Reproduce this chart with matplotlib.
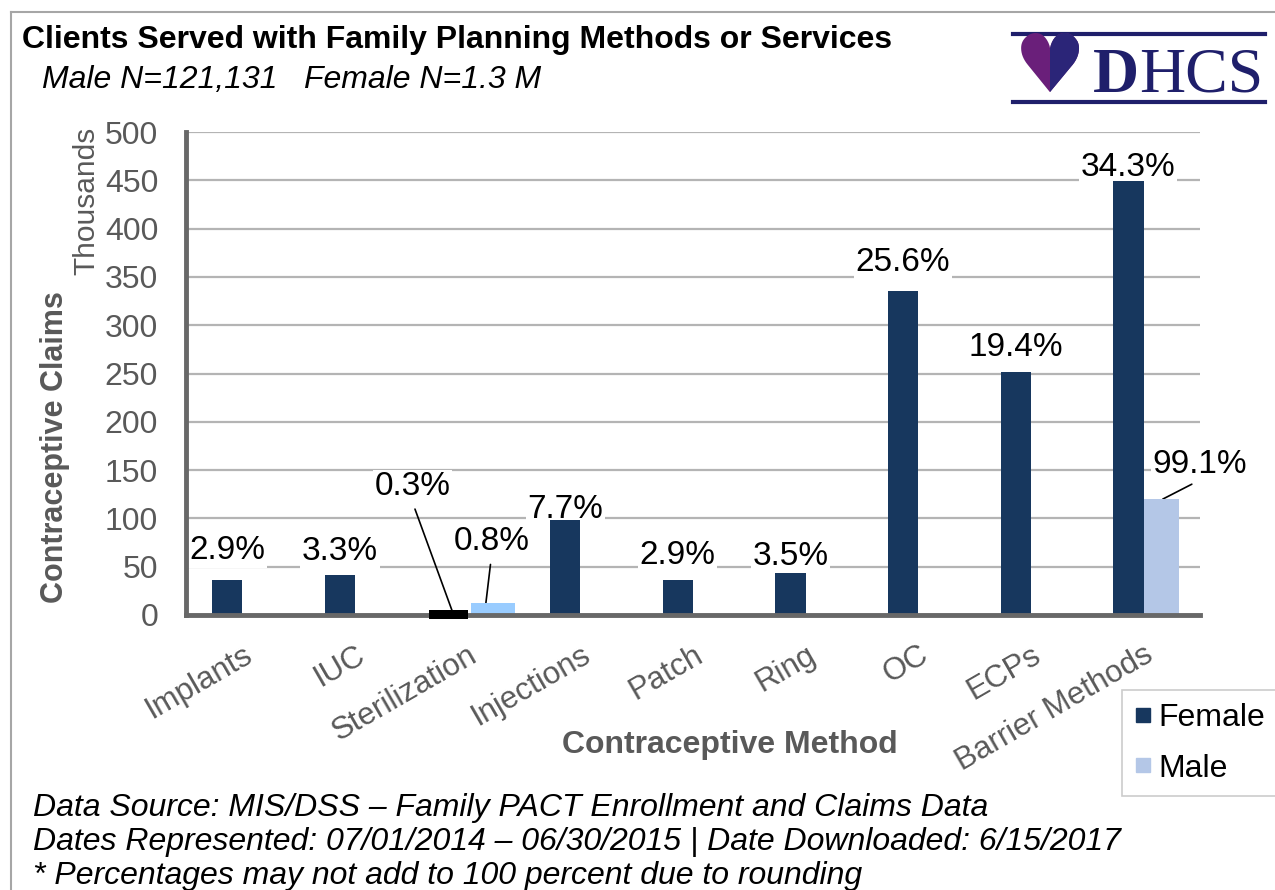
import matplotlib
matplotlib.use("Agg")
import matplotlib.pyplot as plt
from matplotlib.lines import Line2D
from matplotlib.patches import Rectangle

plt.rcParams['font.family'] = ['Liberation Sans', 'DejaVu Sans']

# data (thousands of claims)
methods = ['Implants', 'IUC', 'Sterilization', 'Injections', 'Patch', 'Ring',
           'OC', 'ECPs', 'Barrier Methods']
female = [36, 41, 5, 98, 36, 43, 335, 252, 449]
male = [0, 0, 12, 0, 0, 0, 0, 0, 120]
female_pct = ['2.9%', '3.3%', '0.3%', '7.7%', '2.9%', '3.5%', '25.6%', '19.4%', '34.3%']
male_pct = ['', '', '0.8%', '', '', '', '', '', '99.1%']
yticks = [0, 50, 100, 150, 200, 250, 300, 350, 400, 450, 500]

# gap between bar top and label baseline (points), as placed in the original
label_gap = [15, 11, 0, 2, 11.5, 6, 15, 11, 3.6]

navy = '#17375E'
light = '#B4C7E7'
sky = '#99CCFF'
gray_txt = '#595959'
spine_c = '#686868'

W, H = 1275, 890
fig = plt.figure(figsize=(W / 100, H / 100), dpi=100)

def fx(px):
    return px / W

def fy(py):
    return 1 - py / H

ax = fig.add_axes([fx(186), fy(615), fx(1200) - fx(186), fy(132) - fy(615)])
ax.set_xlim(-0.5, 8.5)
ax.set_ylim(0, 500)

# bars
for i, v in enumerate(female):
    if methods[i] == 'Sterilization':
        # small black block sitting over the axis line
        ax.bar(i - 0.17, v + 4, width=0.34, bottom=-4, color='black', zorder=7, clip_on=False)
    else:
        ax.bar(i - 0.135, v, width=0.27, color=navy, zorder=3)
for i, v in enumerate(male):
    if v == 0:
        continue
    if methods[i] == 'Sterilization':
        ax.bar(i + 0.225, v, width=0.39, color=sky, zorder=3)
    else:
        ax.bar(i + 0.155, v, width=0.31, color=light, zorder=3)

lbl_kw = dict(fontsize=24, color='black', zorder=2.5,
              bbox=dict(boxstyle='square,pad=0.05', fc='white', ec='none'))
line_kw = dict(arrowstyle='-', color='black', lw=1.2, shrinkB=0)

# female labels
for i, (v, t) in enumerate(zip(female, female_pct)):
    if methods[i] == 'Sterilization':
        ax.annotate(t, xy=(i - 0.14, v), xytext=(i - 0.49, 124), ha='center', va='baseline',
                    arrowprops=dict(shrinkA=4, relpos=(0.5, 0), **line_kw), **lbl_kw)
    else:
        ax.annotate(t, xy=(i - 0.135, v), xytext=(0, label_gap[i]), textcoords='offset points',
                    ha='center', va='baseline', **lbl_kw)

# male labels
for i, (v, t) in enumerate(zip(male, male_pct)):
    if not t:
        continue
    if methods[i] == 'Sterilization':
        ax.annotate(t, xy=(i + 0.15, 1), xytext=(i + 0.21, 67), ha='center', va='baseline',
                    arrowprops=dict(shrinkA=4, relpos=(0.5, 0), **line_kw), **lbl_kw)
    else:
        ax.annotate(t, xy=(i + 0.17, v), xytext=(i + 0.50, 147), ha='center', va='baseline',
                    arrowprops=dict(shrinkA=4, relpos=(0.5, 0), **line_kw), **lbl_kw)

# axes styling
ax.set_yticks(yticks)
ax.set_yticklabels([str(t) for t in yticks], fontsize=23, color=gray_txt)
ax.tick_params(axis='y', length=0, pad=20)
ax.set_xticks(range(len(methods)))
ax.set_xticklabels(methods, rotation=30, ha='right', rotation_mode='anchor',
                   fontsize=22.5, color=gray_txt)
ax.tick_params(axis='x', length=0, pad=18)
ax.grid(axis='y', color='#B4B4B4', lw=1.6, zorder=0)
ax.set_axisbelow(True)
for s in ['top', 'right']:
    ax.spines[s].set_visible(False)
for s in ['left', 'bottom']:
    ax.spines[s].set_color(spine_c)
    ax.spines[s].set_linewidth(3.5)
    ax.spines[s].set_zorder(5)

# text
fig.text(fx(22), fy(48), 'Clients Served with Family Planning Methods or Services',
         fontsize=23, fontweight='bold', va='baseline', ha='left')
fig.text(fx(42), fy(88), 'Male N=121,131   Female N=1.3 M', fontsize=23,
         style='italic', va='baseline', ha='left')
fig.text(fx(86), fy(201), 'Thousands', rotation=90, fontsize=21.5, color=gray_txt,
         ha='center', va='center')
fig.text(fx(55), fy(447), 'Contraceptive Claims', rotation=90, fontsize=22,
         fontweight='bold', color=gray_txt, ha='center', va='center')
fig.text(fx(730), fy(745), 'Contraceptive Method', fontsize=23, fontweight='bold',
         color=gray_txt, ha='center', va='center')

footer = ['Data Source: MIS/DSS \u2013 Family PACT Enrollment and Claims Data',
          'Dates Represented: 07/01/2014 \u2013 06/30/2015 | Date Downloaded: 6/15/2017',
          '* Percentages may not add to 100 percent due to rounding']
for k, line in enumerate(footer):
    fig.text(fx(33), fy(816 + 34 * k), line, fontsize=23, style='italic',
             va='baseline', ha='left')

# legend
handles = [Line2D([], [], marker='s', ls='none', markersize=10, color=navy),
           Line2D([], [], marker='s', ls='none', markersize=10, color=light)]
leg = fig.legend(handles, ['Female', 'Male'], loc='upper left',
                 bbox_to_anchor=(fx(1122), fy(690)), fontsize=23, frameon=True,
                 fancybox=False, edgecolor='#BFBFBF', handlelength=0.5,
                 handletextpad=0.25, labelspacing=0.65, borderpad=0.4,
                 borderaxespad=0)
leg.get_frame().set_linewidth(1.2)

# logo
logo_navy = '#1F1F6B'
fig.add_artist(Line2D([fx(1013), fx(1265)], [fy(34), fy(34)], color=logo_navy, lw=3))
fig.add_artist(Line2D([fx(1013), fx(1265)], [fy(102), fy(102)], color=logo_navy, lw=3))
h1 = fig.text(fx(1050), fy(70), '\u2665', fontsize=58, color='#6A1F7A', ha='center',
              va='center', family='DejaVu Sans')
h2 = fig.text(fx(1050), fy(70), '\u2665', fontsize=58, color='#2B2578', ha='center',
              va='center', family='DejaVu Sans')
clip = Rectangle((fx(1050), fy(110)), fx(50), fy(20) - fy(110), transform=fig.transFigure)
h2.set_clip_path(clip)
fig.text(fx(1116), fy(92), 'D', fontsize=46, fontweight='bold', color=logo_navy,
         family='Liberation Serif', ha='center', va='baseline')
fig.text(fx(1201), fy(92), 'HCS', fontsize=46, color=logo_navy,
         family='Liberation Serif', ha='center', va='baseline')

# figure border
fig.add_artist(Line2D([fx(11), fx(11)], [fy(12), 0], color='#A6A6A6', lw=1.5))
fig.add_artist(Line2D([fx(11), 1], [fy(12), fy(12)], color='#A6A6A6', lw=1.5))

fig.savefig('out.png', dpi=100)
